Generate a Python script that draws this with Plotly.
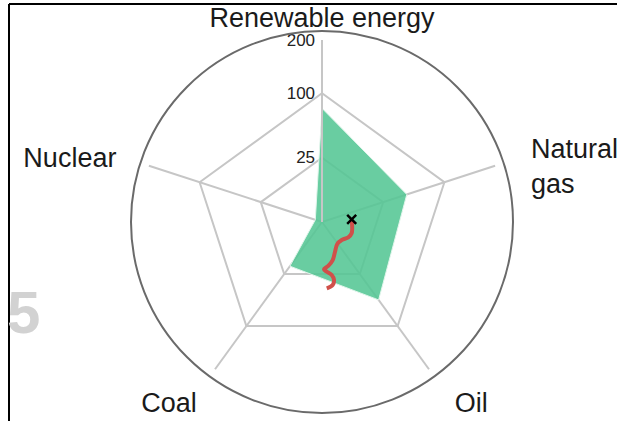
import numpy as np
import plotly.graph_objects as go

# ---------------- data ----------------
categories = ["Renewable energy", "Natural gas", "Oil", "Coal", "Nuclear"]
category_labels = ["Renewable energy", "Natural<br>gas", "Oil", "Coal", "Nuclear"]
values = [78, 48, 56, 18, 0.3]

radial_ticks = [25, 100, 200]
radial_tick_labels = ["25", "100", "200"]
radial_max = 200

# trail of the centre point (fraction of outer circle radius, angle in degrees)
trail_r = [0.156, 0.166, 0.159, 0.140, 0.140, 0.170, 0.207, 0.232, 0.248,
           0.261, 0.282, 0.310, 0.335, 0.348]
trail_theta = [5.2, -20.8, -30.2, -42.4, -55.2, -66.4, -74.3, -81.9, -87.6,
               -84.6, -79.6, -78.3, -80.4, -85.9]

year_label = "5"

# ---------------- figure ----------------
W, H = 622, 421
cx, cy = 322, 222          # centre in px (from top)
R1, R2 = 182, 191          # pentagon radius, outer circle radius
FONT = "Liberation Sans, Arial, sans-serif"

def dom(R):
    cyb = H - cy
    return dict(x=[(cx - R) / W, (cx + R) / W], y=[(cyb - R) / H, (cyb + R) / H])

sq = np.sqrt
n = len(categories)
cat_angles = [(90 - 360 / n * i) % 360 for i in range(n)]
NB = "\u00a0"
label_pad = [0, 2, 2, 1, 2]          # non-breaking spaces pushing side labels outward
label_turn = [0, -3.5, 0, 0, 0]      # small angular nudge of label placement

def padded(lbl, k, ang):
    c = np.cos(np.radians(ang))
    parts = lbl.split("<br>")
    if c > 0.1:
        parts = [NB * k + p for p in parts]
    elif c < -0.1:
        parts = [p + NB * k for p in parts]
    return "<br>".join(parts)

fig = go.Figure()

fig.add_trace(go.Scatterpolar(
    r=sq(values + values[:1]), theta=categories + categories[:1],
    fill="toself", fillcolor="rgba(84,198,148,0.88)",
    line=dict(color="rgba(225,245,235,1)", width=1),
    mode="lines", subplot="polar", showlegend=False, hoverinfo="skip"))

fig.add_trace(go.Scatterpolar(
    r=trail_r, theta=trail_theta, mode="lines",
    line=dict(color="#d0504a", width=4, shape="spline"),
    subplot="polar2", showlegend=False))
fig.add_trace(go.Scatterpolar(
    r=trail_r[:1], theta=trail_theta[:1], mode="markers",
    marker=dict(symbol="x-thin", size=9, line=dict(color="black", width=2.5)),
    subplot="polar2", showlegend=False))

gridc = "#c6c6c6"
top_text = [category_labels[0]] + [""] * (n - 1)
side_vals = [(cat_angles[i] + label_turn[i]) % 360 for i in range(1, n)]
side_text = [padded(category_labels[i], label_pad[i], cat_angles[i]) for i in range(1, n)]

fig.update_layout(
    width=W, height=H, margin=dict(l=0, r=0, t=0, b=0),
    paper_bgcolor="white", plot_bgcolor="white",
    font=dict(family=FONT, color="#1a1a1a"),
    polar=dict(
        domain=dom(R1), bgcolor="rgba(0,0,0,0)", gridshape="linear",
        radialaxis=dict(range=[0, sq(radial_max)], tickvals=sq(radial_ticks),
                        ticktext=radial_tick_labels, angle=90, tickangle=90,
                        side="counterclockwise",
                        showline=True, linecolor=gridc, linewidth=2,
                        gridcolor=gridc, gridwidth=1.5, ticks="",
                        tickfont=dict(size=17, color="#222")),
        angularaxis=dict(categoryarray=categories, categoryorder="array",
                         rotation=90, direction="clockwise",
                         tickvals=categories, ticktext=top_text,
                         showline=False, gridcolor=gridc, gridwidth=1.5,
                         ticks="outside", ticklen=2, tickcolor="rgba(0,0,0,0)",
                         tickfont=dict(size=27, color="#1a1a1a")),
    ),
    polar2=dict(
        domain=dom(R2), bgcolor="rgba(0,0,0,0)",
        radialaxis=dict(range=[0, 1], visible=False),
        angularaxis=dict(rotation=0, direction="counterclockwise",
                         tickmode="array", tickvals=side_vals, ticktext=side_text,
                         showline=True, linecolor="#6a6a6a", linewidth=2,
                         showgrid=False, ticks="outside", ticklen=3,
                         tickcolor="rgba(0,0,0,0)",
                         tickfont=dict(size=27, color="#1a1a1a")),
    ),
)

fig.add_annotation(text=year_label, xref="paper", yref="paper",
                   x=42 / W, y=1 - 312 / H, xanchor="right", yanchor="middle",
                   showarrow=False,
                   font=dict(size=60, color="#d2d2d2", family=FONT, weight="bold"))

# frame: top and left edges
fig.add_shape(type="line", xref="paper", yref="paper",
              x0=9 / W, x1=617 / W, y0=1 - 4 / H, y1=1 - 4 / H,
              line=dict(color="black", width=2), layer="above")
fig.add_shape(type="line", xref="paper", yref="paper",
              x0=9 / W, x1=9 / W, y0=-0.01, y1=1 - 4 / H,
              line=dict(color="black", width=2), layer="above")

fig.write_html("out.html", config={"displayModeBar": False},
               post_script="document.body.style.margin='0px';")
